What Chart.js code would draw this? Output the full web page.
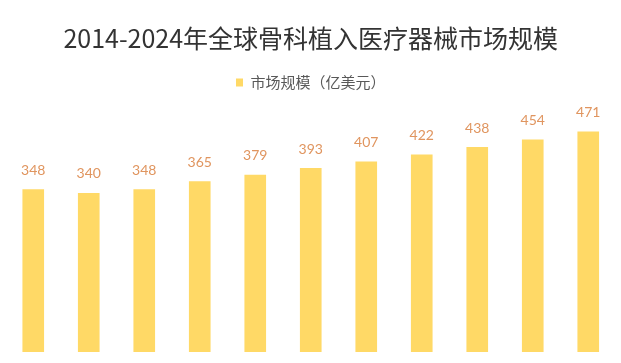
<!DOCTYPE html>
<html>
<head>
<meta charset="utf-8">
<script src="https://cdn.jsdelivr.net/npm/chart.js@4/dist/chart.umd.min.js"></script>
<style>
html,body{margin:0;padding:0;background:#fff;}
#wrap{width:621px;height:363px;position:relative;}
</style>
</head>
<body>
<div id="wrap"><canvas id="c" width="621" height="363"></canvas></div>
<script>
const categories = ['2014','2015','2016','2017','2018','2019','2020','2021','2022','2023','2024'];
const marketSize = [348, 340, 348, 365, 379, 393, 407, 422, 438, 454, 471];
const titleText = '2014-2024年全球骨科植入医疗器械市场规模';
const seriesName = '市场规模（亿美元）';

const labelPlugin = {
  id: 'barLabels',
  beforeLayout(chart) {
    const lg = chart.legend;
    if (lg && !lg._patched) {
      const f = lg.fit;
      lg.fit = function () { f.call(this); this.height += 18; };
      lg._patched = true;
    }
  },
  afterDatasetsDraw(chart) {
    const ctx = chart.ctx;
    const meta = chart.getDatasetMeta(0);
    ctx.save();
    ctx.font = '14px Lato, "Noto Sans", sans-serif';
    ctx.fillStyle = '#E0955F';
    ctx.textAlign = 'center';
    ctx.textBaseline = 'middle';
    meta.data.forEach((bar, i) => {
      ctx.fillText(String(marketSize[i]), bar.x, bar.y - 19);
    });
    ctx.restore();
  }
};

new Chart(document.getElementById('c'), {
  type: 'bar',
  data: {
    labels: categories,
    datasets: [{
      label: seriesName,
      data: marketSize,
      backgroundColor: '#FFD966',
      borderWidth: 0,
      categoryPercentage: 1,
      barPercentage: 0.39
    }]
  },
  options: {
    responsive: false,
    animation: false,
    layout: { padding: { left: 5.5, right: 5, top: 0, bottom: 11 } },
    scales: {
      x: { display: false },
      y: { display: false, min: 0, max: 500 }
    },
    plugins: {
      title: {
        display: true,
        text: titleText,
        color: '#333333',
        font: { family: '"Noto Sans CJK SC", sans-serif', size: 25, weight: 'normal', lineHeight: 1.2 },
        padding: { top: 23, bottom: 12 }
      },
      legend: {
        display: true,
        position: 'top',
        labels: {
          boxWidth: 7,
          boxHeight: 8,
          color: '#595959',
          font: { family: '"Noto Sans CJK SC", sans-serif', size: 15 },
          padding: 10
        }
      },
      tooltip: { enabled: false }
    }
  },
  plugins: [labelPlugin]
});
</script>
</body>
</html>
